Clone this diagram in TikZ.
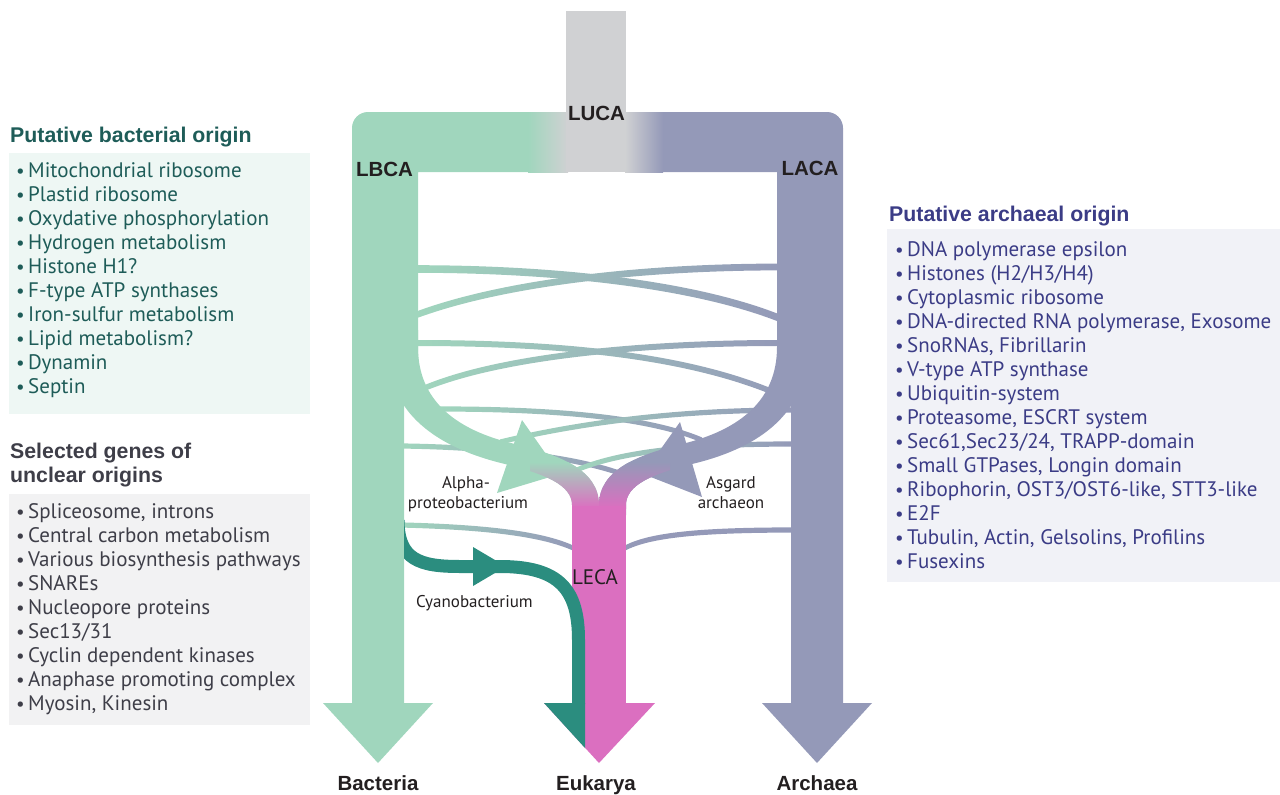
\documentclass[tikz,border=0pt]{standalone}
\usepackage{fontspec}
\setmainfont{PT Sans}
\newfontfamily\hv{Liberation Sans}
\usetikzlibrary{calc}
\definecolor{bgreen}{HTML}{A0D6BD}
\definecolor{apurple}{HTML}{9499B8}
\definecolor{lgrey}{HTML}{D0D1D3}
\definecolor{epink}{HTML}{DB6FC0}
\definecolor{cteal}{HTML}{2B8D7F}
\definecolor{ink}{HTML}{231F20}
\definecolor{boxAbg}{HTML}{EEF7F4}
\definecolor{boxAtx}{HTML}{1E5C58}
\definecolor{boxBbg}{HTML}{F2F2F3}
\definecolor{boxBtx}{HTML}{3E3E48}
\definecolor{boxCbg}{HTML}{F1F2F7}
\definecolor{boxCtx}{HTML}{3B3C86}
% thin transfer line: start, control1, control2, end, half width, left colour, right colour
\newcommand\hgt[7]{\shade[left color=#6, right color=#7] ($(#1)+(0,-#5)$) .. controls ($(#2)+(0,-#5)$) and ($(#3)+(0,-#5)$) .. ($(#4)+(0,-#5)$) -- ($(#4)+(0,#5)$) .. controls ($(#3)+(0,#5)$) and ($(#2)+(0,#5)$) .. ($(#1)+(0,#5)$) -- cycle;}
\begin{document}
\begin{tikzpicture}[x=1pt,y=-1pt,
  lbl/.style={font=\hv\bfseries\fontsize{20.5}{24}\selectfont, text=ink, inner sep=0pt},
  small/.style={font=\fontsize{17}{20}\selectfont, text=ink, inner sep=0pt, anchor=base},
  item/.style={anchor=base west, inner sep=0pt, font=\fontsize{21}{24}\selectfont},
  bul/.style={anchor=base, inner sep=0pt, font=\fontsize{19}{24}\selectfont},
  hdr/.style={anchor=base west, inner sep=0pt, font=\hv\bfseries\fontsize{21.3}{24}\selectfont}]
\useasboundingbox (0,0) rectangle (1280,795);

% ---------- boxes ----------
\fill[boxAbg] (9,153) rectangle (310,414);
\fill[boxBbg] (9,494) rectangle (310,725);
\fill[boxCbg] (887,229) rectangle (1280,582);
\node[hdr, text=boxAtx] (hA) at (10,142) {Putative bacterial origin};
\node[hdr, text=boxBtx] (hB1) at (10,458) {Selected genes of};
\node[hdr, text=boxBtx] (hB2) at (10,482) {unclear origins};
\node[hdr, text=boxCtx] (hC) at (889,221) {Putative archaeal origin};
\foreach \t [count=\i from 0] in {Mitochondrial ribosome, Plastid ribosome, Oxydative phosphorylation, Hydrogen metabolism, Histone H1?, F-type ATP synthases, Iron-sulfur metabolism, Lipid metabolism?, Dynamin, Septin}{
  \node[bul, text=boxAtx] (bA\i) at (20.5,177+24*\i) {\textbullet};
  \node[item, text=boxAtx] (iA\i) at (28,177+24*\i) {\t};
}
\foreach \t [count=\i from 0] in {{Spliceosome, introns}, Central carbon metabolism, Various biosynthesis pathways, SNAREs, Nucleopore proteins, Sec13/31, Cyclin dependent kinases, Anaphase promoting complex, {Myosin, Kinesin}}{
  \node[bul, text=boxBtx] (bB\i) at (20.5,518+24*\i) {\textbullet};
  \node[item, text=boxBtx] (iB\i) at (28,518+24*\i) {\t};
}
\foreach \t [count=\i from 0] in {DNA polymerase epsilon, Histones (H2/H3/H4), Cytoplasmic ribosome, {DNA-directed RNA polymerase, Exosome}, {SnoRNAs, Fibrillarin}, V-type ATP synthase, Ubiquitin-system, {Proteasome, ESCRT system}, {Sec61,Sec23/24, TRAPP-domain}, {Small GTPases, Longin domain}, {Ribophorin, OST3/OST6-like, STT3-like}, E2F, {Tubulin, Actin, Gelsolins, Profilins}, Fusexins}{
  \node[bul, text=boxCtx] (bC\i) at (899.5,256+24*\i) {\textbullet};
  \node[item, text=boxCtx] (iC\i) at (907,256+24*\i) {\t};
}

% ---------- thin transfer lines (under) ----------
\hgt{416,269}{550,269}{690,283}{779,318}{3.8}{bgreen}{apurple}
\hgt{779,267}{645,267}{505,282}{416,315}{3.4}{bgreen}{apurple}
\hgt{416,343}{560,343}{700,355}{795,402}{3}{bgreen}{apurple}
\hgt{779,343}{650,343}{500,355}{420,390}{3}{bgreen}{apurple}
\hgt{440,409}{560,409}{650,418}{702,440}{2.6}{bgreen}{apurple}
\hgt{792,410}{700,410}{600,418}{500,442}{2.6}{bgreen}{apurple}
\hgt{402,446}{480,447}{570,455}{622,474}{2.6}{bgreen}{apurple}
\hgt{793,444}{700,444}{620,450}{572,472}{2.6}{bgreen}{apurple}
\hgt{402,525}{480,527}{540,533}{573,548}{2.6}{bgreen}{apurple}
\hgt{793,530}{700,530}{650,535}{625,548}{2.6}{apurple}{apurple}

% ---------- main shafts ----------
\fill[bgreen] (404,703) -- (352,703) -- (352,128) arc[start angle=180,end angle=270,radius=16] -- (530,112) -- (530,172) -- (418,172) -- (418,360) -- (404,360) -- cycle;
\fill[apurple] (791,703) -- (843,703) -- (843,128) arc[start angle=0,end angle=-90,radius=16] -- (662,112) -- (662,172) -- (777,172) -- (777,360) -- (791,360) -- cycle;
\shade[left color=bgreen, right color=lgrey] (528,112) rectangle (568,172);
\shade[left color=lgrey, right color=apurple] (625,112) rectangle (663,172);
\fill[lgrey] (566,11) rectangle (626,172);
\fill[bgreen] (323,703) -- (433,703) -- (378,763) -- cycle;
\fill[apurple] (762,703) -- (872,703) -- (817,763) -- cycle;

% ---------- merging bands ----------
\fill[bgreen] (418,330) -- (418,347) .. controls (418,400) and (455,430) .. (515,444) .. controls (560,455) and (599,470) .. (599,505) -- (599,515) -- (572,515) -- (572,505) .. controls (572,485) and (545,474) .. (505,464) .. controls (450,451) and (405,425) .. (392,380) -- (392,330) -- cycle;
\fill[apurple] (777,330) -- (777,347) .. controls (777,400) and (740,430) .. (682,444) .. controls (637,455) and (599,470) .. (599,505) -- (599,515) -- (626,515) -- (626,505) .. controls (626,485) and (652,474) .. (692,464) .. controls (747,451) and (790,425) .. (803,380) -- (803,330) -- cycle;
\fill[bgreen] (522,420) -- (560,474) -- (497,493) -- cycle;
\fill[apurple] (680,422) -- (643,474) -- (702,497) -- cycle;
\begin{scope}
  \clip (418,330) -- (418,347) .. controls (418,400) and (455,430) .. (515,444) .. controls (560,455) and (599,470) .. (599,505) -- (599,515) -- (572,515) -- (572,505) .. controls (572,485) and (545,474) .. (505,464) .. controls (450,451) and (405,425) .. (392,380) -- (392,330) -- cycle;
  \shade[top color=bgreen, bottom color=epink] (530,462) rectangle (605,508);
\end{scope}
\begin{scope}
  \clip (777,330) -- (777,347) .. controls (777,400) and (740,430) .. (682,444) .. controls (637,455) and (599,470) .. (599,505) -- (599,515) -- (626,515) -- (626,505) .. controls (626,485) and (652,474) .. (692,464) .. controls (747,451) and (790,425) .. (803,380) -- (803,330) -- cycle;
  \shade[top color=apurple, bottom color=epink] (595,462) rectangle (670,508);
\end{scope}

% ---------- LECA / Eukarya ----------
\fill[epink] (572,506) rectangle (626,704);
\fill[epink] (544,703) -- (655,703) -- (599,763) -- cycle;
\begin{scope}
  \clip (404,500) rectangle (700,720);
  \draw[cteal, line width=13pt] (398,520) .. controls (398,560) and (420,566.5) .. (460,566.5) -- (500,566.5) .. controls (560,566.5) and (578.5,590) .. (578.5,640) -- (578.5,704);
\end{scope}
\fill[cteal] (473,547) -- (506,566.5) -- (473,586) -- cycle;
\fill[cteal] (544,703) -- (585,703) -- (585,748) -- cycle;

% ---------- labels ----------
\node[lbl] (luca) at (596.5,113) {LUCA};
\node[lbl] (lbca) at (384.5,169) {LBCA};
\node[lbl] (laca) at (810,168) {LACA};
\node[lbl, anchor=base] (bact) at (378,790) {Bacteria};
\node[lbl, anchor=base] (euk) at (596,790) {Eukarya};
\node[lbl, anchor=base] (arch) at (817,790) {Archaea};
\node[inner sep=0pt, text=ink, font=\fontsize{21}{24}\selectfont] (leca) at (595,577.5) {LECA};
\node[small] (alpha1) at (466,488) {Alpha-};
\node[small] (alpha2) at (468,508) {proteobacterium};
\node[small] (asg1) at (731,488) {Asgard};
\node[small] (asg2) at (731,508) {archaeon};
\node[small] (cyano) at (474.5,607) {Cyanobacterium};
\end{tikzpicture}
\end{document}
